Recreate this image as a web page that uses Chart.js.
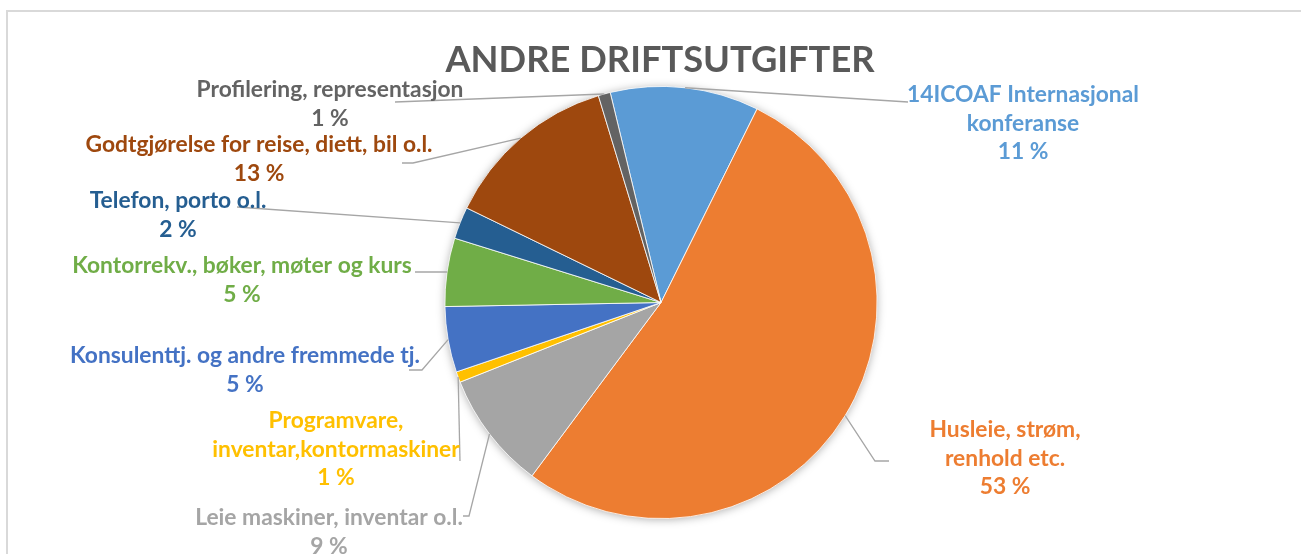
<!DOCTYPE html>
<html>
<head>
<meta charset="utf-8">
<script src="https://cdn.jsdelivr.net/npm/chart.js@4/dist/chart.umd.min.js"></script>
<style>
  html, body { margin: 0; padding: 0; background: #ffffff; }
  #wrap { position: relative; width: 1301px; height: 554px; }
</style>
</head>
<body>
<div id="wrap"><canvas id="c" width="1301" height="554"></canvas></div>
<script>
// ---- DATA ----
const chartTitle = 'ANDRE DRIFTSUTGIFTER';
const categories = [
  ['14ICOAF Internasjonal', 'konferanse'],
  ['Husleie, strøm,', 'renhold etc.'],
  ['Leie maskiner, inventar o.l.'],
  ['Programvare,', 'inventar,kontormaskiner'],
  ['Konsulenttj. og andre fremmede tj.'],
  ['Kontorrekv., bøker, møter og kurs'],
  ['Telefon, porto o.l.'],
  ['Godtgjørelse for reise, diett, bil o.l.'],
  ['Profilering, representasjon']
];
const shares = [11.1, 52.8, 8.8, 0.8, 4.9, 5.1, 2.4, 13.1, 0.9];
const sliceColors = ['#5B9BD5', '#ED7D31', '#A5A5A5', '#FFC000', '#4472C4', '#70AD47', '#255E91', '#9E480E', '#636363'];

// ---- LAYOUT (label placement & leader elbows) ----
const labelLayout = [
  { x: 1023, y: 102, pts: [[908, 102]] },
  { x: 1005, y: 437, pts: [[875, 461], [889, 461]] },
  { x: 329,  y: 525, pts: [[469, 516], [463, 516]] },
  { x: 336,  y: 428, pts: [[460, 461]] },
  { x: 245,  y: 363, pts: [[422, 370], [409, 370]] },
  { x: 242,  y: 273, pts: [[415, 272]] },
  { x: 178,  y: 208, pts: [[237, 207]] },
  { x: 259,  y: 152, pts: [[413, 163], [402, 163]] },
  { x: 330,  y: 97,  pts: [[395, 102]] }
];
const LABEL_FONT = 'bold 22.8px Lato, "Open Sans", sans-serif';
const LINE_H = 28.5;

const frameAndShadow = {
  id: 'frameAndShadow',
  beforeDatasetsDraw(chart) {
    const ctx = chart.ctx;
    ctx.save();
    ctx.strokeStyle = '#d9d9d9';
    ctx.lineWidth = 2;
    ctx.beginPath();
    ctx.moveTo(7, 554);
    ctx.lineTo(7, 11);
    ctx.lineTo(1301, 11);
    ctx.stroke();
    ctx.restore();
    const arc = chart.getDatasetMeta(0).data[0];
    if (!arc) return;
    ctx.save();
    ctx.shadowColor = 'rgba(0,0,0,0.35)';
    ctx.shadowBlur = 10;
    ctx.shadowOffsetX = 0;
    ctx.shadowOffsetY = 1;
    ctx.fillStyle = '#ffffff';
    ctx.beginPath();
    ctx.arc(arc.x, arc.y, arc.outerRadius - 0.5, 0, Math.PI * 2);
    ctx.fill();
    ctx.restore();
  }
};

const labelsPlugin = {
  id: 'outLabels',
  afterDatasetsDraw(chart) {
    const ctx = chart.ctx;
    const meta = chart.getDatasetMeta(0);
    const data = chart.data.datasets[0].data;
    const total = data.reduce((a, b) => a + b, 0);
    ctx.save();
    ctx.font = 'bold 36.3px Lato, "Open Sans", sans-serif';
    ctx.fillStyle = '#595959';
    ctx.textAlign = 'center';
    ctx.textBaseline = 'alphabetic';
    ctx.fillText(chartTitle, 660, 72);
    ctx.restore();
    ctx.save();
    ctx.strokeStyle = '#a6a6a6';
    ctx.lineWidth = 1.3;
    meta.data.forEach((arc, i) => {
      const mid = (arc.startAngle + arc.endAngle) / 2;
      const sx = arc.x + Math.cos(mid) * arc.outerRadius;
      const sy = arc.y + Math.sin(mid) * arc.outerRadius;
      ctx.beginPath();
      ctx.moveTo(sx, sy);
      labelLayout[i].pts.forEach(p => ctx.lineTo(p[0], p[1]));
      ctx.stroke();
    });
    ctx.restore();
    ctx.save();
    ctx.font = LABEL_FONT;
    ctx.textAlign = 'center';
    ctx.textBaseline = 'alphabetic';
    meta.data.forEach((arc, i) => {
      const lay = labelLayout[i];
      const lines = categories[i].concat([Math.round(data[i] / total * 100) + ' %']);
      ctx.fillStyle = sliceColors[i];
      lines.forEach((t, k) => ctx.fillText(t, lay.x, lay.y + k * LINE_H));
    });
    ctx.restore();
  }
};

new Chart(document.getElementById('c'), {
  type: 'pie',
  data: {
    labels: categories,
    datasets: [{
      data: shares,
      backgroundColor: sliceColors,
      borderColor: '#ffffff',
      borderWidth: 0.8
    }]
  },
  options: {
    responsive: false,
    animation: false,
    rotation: -13.6,
    layout: { padding: { top: 86, bottom: 35, left: 200, right: 179 } },
    plugins: {
      legend: { display: false },
      title: { display: false },
      tooltip: { enabled: false }
    }
  },
  plugins: [frameAndShadow, labelsPlugin]
});
</script>
</body>
</html>
